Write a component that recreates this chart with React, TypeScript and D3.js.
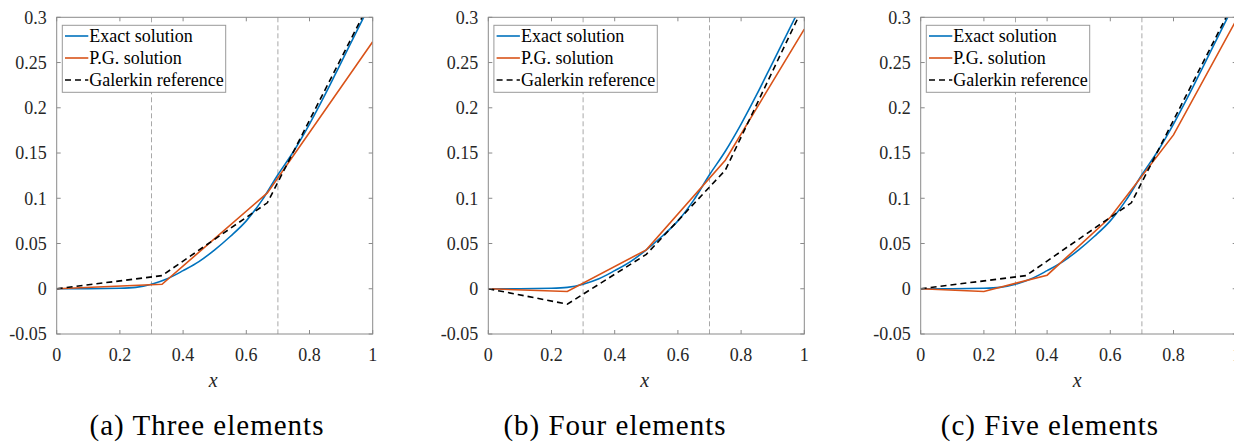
import * as React from 'react'
import * as d3 from 'd3'

// exact solution
const exactX = [0, 0.1, 0.2, 0.25, 0.3, 0.35, 0.4, 0.45, 0.5, 0.55, 0.6, 0.65, 0.7, 0.75, 0.8, 0.85, 0.9, 0.95, 1]
const exactY = [0, 0, 0.0005, 0.0015, 0.005, 0.011, 0.02, 0.03, 0.043, 0.058, 0.075, 0.098, 0.126, 0.152, 0.182, 0.215, 0.25, 0.285, 0.32]

// nodes + nodal values
const nodes3 = [0, 1 / 3, 2 / 3, 1]
const pg3 = [0, 0.005, 0.106, 0.273]
const gal3 = [0, 0.0145, 0.095, 0.323]

const nodes4 = [0, 0.25, 0.5, 0.75, 1]
const pg4 = [0, -0.003, 0.043, 0.142, 0.287]
const gal4 = [0, -0.017, 0.038, 0.131, 0.314]

const nodes5 = [0, 0.2, 0.4, 0.6, 0.8, 1]
const pg5 = [0, -0.003, 0.015, 0.079, 0.17, 0.298]

const captions = ['(a) Three elements', '(b) Four elements', '(c) Five elements']
const xTicks = [0, 0.2, 0.4, 0.6, 0.8, 1]
const yTicks = [-0.05, 0, 0.05, 0.1, 0.15, 0.2, 0.25, 0.3]
const markers = [0.3, 0.7]
const legendLabels = ['Exact solution', 'P.G. solution', 'Galerkin reference']

const panels = [
  { left: 56.7, pgX: nodes3, pgY: pg3, galX: nodes3, galY: gal3, capX: 207 },
  { left: 488.3, pgX: nodes4, pgY: pg4, galX: nodes4, galY: gal4, capX: 615 },
  { left: 920.7, pgX: nodes5, pgY: pg5, galX: nodes3, galY: gal3, capX: 1050 },
]

const BLUE = '#0072BD'
const ORANGE = '#D95319'
const FONT = 'Liberation Serif, DejaVu Serif, Noto Serif, serif'
const top = 17.3
const bottom = 334
const plotW = 316

const fmt = (v: number) => String(+v.toFixed(2))

const Panel = ({ p, i }: { p: any; i: number }) => {
  const x = d3.scaleLinear().domain([0, 1]).range([p.left, p.left + plotW])
  const y = d3.scaleLinear().domain([-0.05, 0.3]).range([bottom, top])
  const smooth = d3.line<number>().x((d, k) => x(exactX[k])).y(d => y(d)).curve(d3.curveMonotoneX)
  const poly = (xs: number[]) => d3.line<number>().x((d, k) => x(xs[k])).y(d => y(d))
  const clipId = `clip${i}`
  const axisCol = '#8a8a8a'
  const lx = p.left + 5.6
  const ly = top + 8

  return (
    <g>
      <defs>
        <clipPath id={clipId}>
          <rect x={p.left} y={top} width={plotW} height={bottom - top} />
        </clipPath>
      </defs>
      {markers.map(m => (
        <line key={m} x1={x(m)} x2={x(m)} y1={top} y2={bottom} stroke="#a8a8a8" strokeWidth={1} strokeDasharray="5,3" />
      ))}
      <g clipPath={`url(#${clipId})`} fill="none" strokeWidth={1.6}>
        <path d={smooth(exactY) || ''} stroke={BLUE} />
        <path d={poly(p.pgX)(p.pgY) || ''} stroke={ORANGE} />
        <path d={poly(p.galX)(p.galY) || ''} stroke="#000" strokeDasharray="6,4" />
      </g>
      <rect x={p.left} y={top} width={plotW} height={bottom - top} fill="none" stroke={axisCol} strokeWidth={1} />
      {xTicks.map(t => (
        <g key={t}>
          <line x1={x(t)} x2={x(t)} y1={bottom} y2={bottom - 4} stroke={axisCol} />
          <line x1={x(t)} x2={x(t)} y1={top} y2={top + 4} stroke={axisCol} />
          <text x={x(t)} y={361} textAnchor="middle" fontSize={18} fill="#262626" style={{ fontFamily: FONT }}>{fmt(t)}</text>
        </g>
      ))}
      {yTicks.map(t => (
        <g key={t}>
          <line x1={p.left} x2={p.left + 4} y1={y(t)} y2={y(t)} stroke={axisCol} />
          <line x1={p.left + plotW} x2={p.left + plotW - 4} y1={y(t)} y2={y(t)} stroke={axisCol} />
          <text x={p.left - 10} y={y(t)} dy="0.35em" textAnchor="end" fontSize={18} fill="#262626" style={{ fontFamily: FONT }}>{fmt(t)}</text>
        </g>
      ))}
      <text x={p.left + plotW / 2 - 1.5} y={386.5} textAnchor="middle" fontSize={20} fontStyle="italic" fill="#262626" style={{ fontFamily: FONT }}>x</text>
      <g>
        <rect x={lx} y={ly} width={163.4} height={67} fill="#fff" stroke="#999" strokeWidth={1} />
        {legendLabels.map((lab, k) => {
          const cy = ly + 10.7 + k * 22
          return (
            <g key={lab}>
              <line x1={lx + 2.7} x2={lx + 26} y1={cy} y2={cy} strokeWidth={1.6}
                stroke={k === 0 ? BLUE : k === 1 ? ORANGE : '#000'} strokeDasharray={k === 2 ? '6,4' : undefined} />
              <text x={lx + 27} y={cy + 5.7} fontSize={18} fill="#000" style={{ fontFamily: FONT }}>{lab}</text>
            </g>
          )
        })}
      </g>
      <text x={p.capX} y={435} textAnchor="middle" fontSize={29} letterSpacing={1} fill="#000" style={{ fontFamily: FONT }}>{captions[i]}</text>
    </g>
  )
}

const App = () => (
  <svg width={1234} height={442} style={{ position: 'absolute', left: 0, top: 0, background: '#fff' }}>
    {panels.map((p, i) => <Panel key={i} p={p} i={i} />)}
  </svg>
)

export default App
